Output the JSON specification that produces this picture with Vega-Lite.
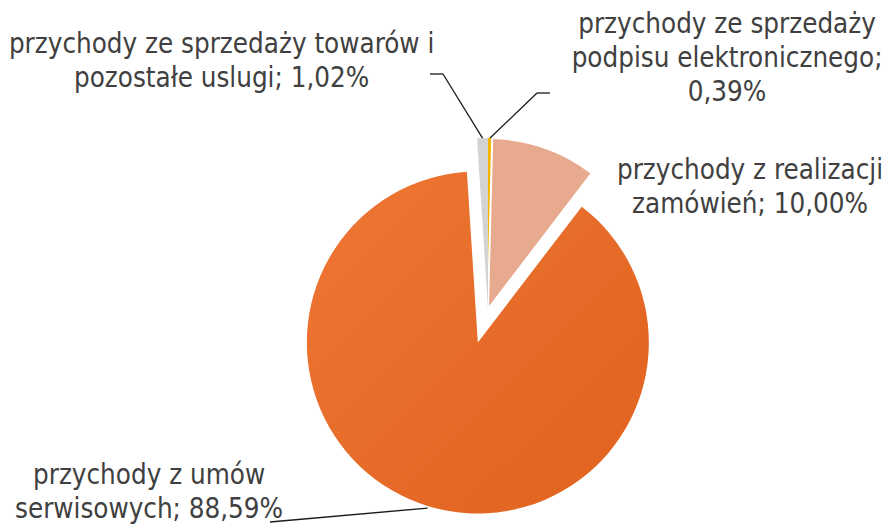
{
  "$schema": "https://vega.github.io/schema/vega-lite/v6.json",
  "width": 796,
  "height": 430,
  "autosize": "none",
  "padding": {"left": 90, "top": 94, "right": 0, "bottom": 0},
  "background": "white",
  "config": {"view": {"stroke": null}},
  "data": {
    "values": [
      {"lp": 1, "nazwa": "przychody ze sprzedaży\npodpisu elektronicznego", "udzial": 0.39},
      {"lp": 2, "nazwa": "przychody z realizacji\nzamówień", "udzial": 10.00},
      {"lp": 3, "nazwa": "przychody z umów\nserwisowych", "udzial": 88.59},
      {"lp": 4, "nazwa": "przychody ze sprzedaży towarów i\npozostałe uslugi", "udzial": 1.02}
    ]
  },
  "transform": [
    {"window": [{"op": "sum", "field": "udzial", "as": "kum"}], "sort": [{"field": "lp"}], "frame": [null, 0]},
    {"joinaggregate": [{"op": "sum", "field": "udzial", "as": "suma"}]},
    {"calculate": "2*PI*(datum.kum - datum.udzial/2)/datum.suma", "as": "mid"},
    {"calculate": "datum.nazwa + ';' + (datum.lp == 1 ? '\\n' : ' ') + replace(format(datum.udzial, '.2f'), '.', ',') + '%'", "as": "etykieta"}
  ],
  "layer": [
    {
      "mark": {"type": "arc", "outerRadius": 171, "strokeWidth": 2},
      "encoding": {
        "theta": {"field": "udzial", "type": "quantitative", "stack": true},
        "order": {"field": "lp", "type": "quantitative"},
        "x": {"value": {"expr": "width/2 + (datum.lp == 3 ? 35*sin(datum.mid) : 0)"}},
        "y": {"value": {"expr": "height/2 - (datum.lp == 3 ? 35*cos(datum.mid) : 0)"}},
        "stroke": {"condition": {"test": "datum.lp == 2", "value": "white"}, "value": null},
        "color": {
          "condition": {
            "test": "datum.lp == 3",
            "value": {"gradient": "linear", "x1": 0, "y1": 0, "x2": 1, "y2": 1,
              "stops": [{"offset": 0, "color": "#EE7634"}, {"offset": 1, "color": "#E0621E"}]}
          },
          "field": "lp", "type": "nominal",
          "scale": {"domain": [1, 2, 3, 4], "range": ["#F5B400", "#E8AA8E", "#E66A28", "#D3D3D3"]},
          "legend": null
        }
      }
    },
    {
      "transform": [{"filter": "datum.lp != 2"}],
      "mark": {"type": "rule", "color": "#1a1a1a", "strokeWidth": 1.3},
      "encoding": {
        "x": {"value": {"expr": "width/2 + (datum.lp == 3 ? 208 : 171) * sin(datum.mid)"}},
        "y": {"value": {"expr": "height/2 - (datum.lp == 3 ? 208 : 171) * cos(datum.mid)"}},
        "x2": {"value": {"expr": "width/2 + (datum.lp == 1 ? 49 : datum.lp == 4 ? -45 : -218)"}},
        "y2": {"value": {"expr": "height/2 + (datum.lp == 1 ? -216 : datum.lp == 4 ? -235 : 213)"}}
      }
    },
    {
      "transform": [{"filter": "datum.lp == 1 || datum.lp == 4"}],
      "mark": {"type": "rule", "color": "#1a1a1a", "strokeWidth": 1.3},
      "encoding": {
        "x": {"value": {"expr": "width/2 + (datum.lp == 1 ? 49 : -45)"}},
        "y": {"value": {"expr": "height/2 + (datum.lp == 1 ? -216 : -235)"}},
        "x2": {"value": {"expr": "width/2 + (datum.lp == 1 ? 62 : -58)"}},
        "y2": {"value": {"expr": "height/2 + (datum.lp == 1 ? -216 : -235)"}}
      }
    },
    {
      "mark": {
        "type": "text",
        "radius": 200,
        "lineBreak": "\n",
        "font": "DejaVu Sans Condensed",
        "fontSize": 27.5,
        "lineHeight": 34,
        "fill": "#404040",
        "align": "center",
        "baseline": "middle",
        "dx": {"expr": "datum.lp == 1 ? 236.6 : datum.lp == 2 ? 195.6 : datum.lp == 3 ? -280.9 : -260"},
        "dy": {"expr": "datum.lp == 1 ? -84 : datum.lp == 2 ? 50.6 : datum.lp == 3 ? -24.4 : -64"}
      },
      "encoding": {
        "theta": {"field": "udzial", "type": "quantitative", "stack": true},
        "order": {"field": "lp", "type": "quantitative"},
        "text": {"field": "etykieta"}
      }
    }
  ]
}
